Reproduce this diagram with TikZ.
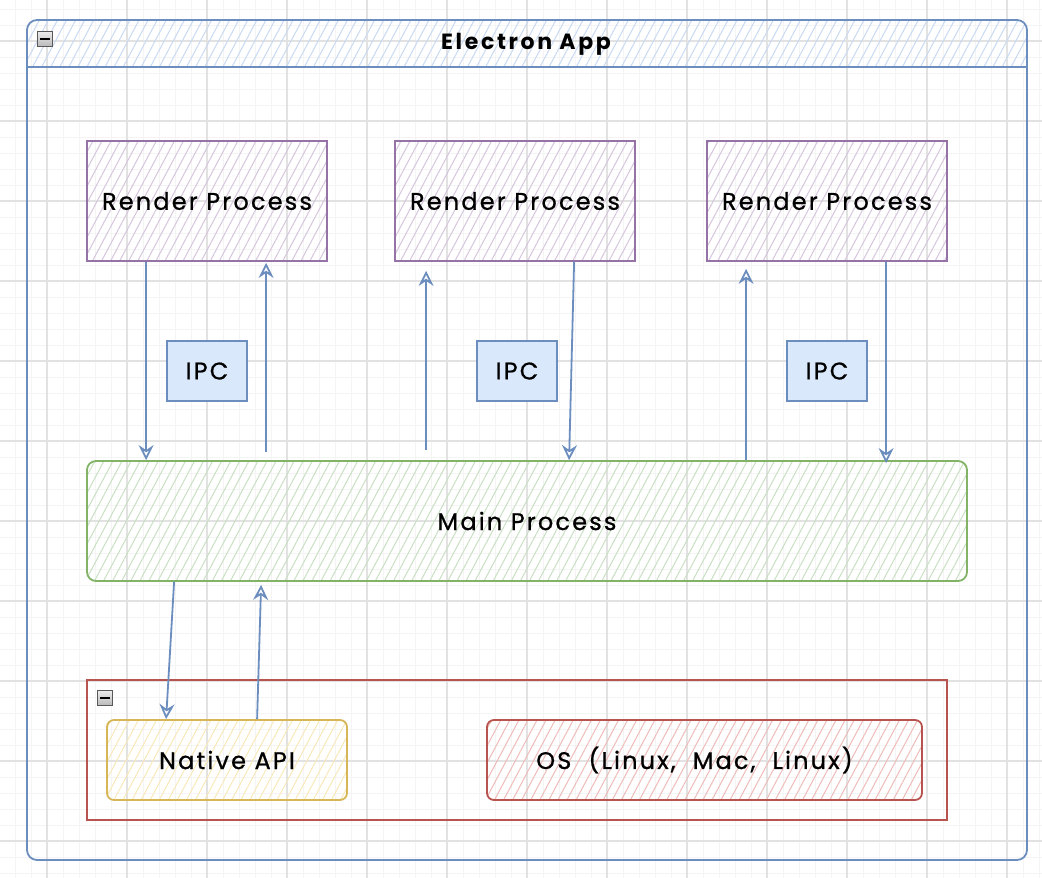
\documentclass[tikz,border=0pt]{standalone}
\usepackage{fontspec}
\setmainfont{Poppins}
\usetikzlibrary{patterns.meta,arrows.meta}
\definecolor{blueS}{HTML}{6C8EBF}
\definecolor{blueF}{HTML}{DAE8FC}
\definecolor{purpS}{HTML}{9673A6}
\definecolor{purpF}{HTML}{E1D5E7}
\definecolor{greenS}{HTML}{82B366}
\definecolor{greenF}{HTML}{D5E8D4}
\definecolor{yelS}{HTML}{D6B656}
\definecolor{yelF}{HTML}{FFF2CC}
\definecolor{redS}{HTML}{B85450}
\definecolor{redF}{HTML}{F8CECC}
\definecolor{minorg}{HTML}{F4F4F4}
\definecolor{majorg}{HTML}{E2E2E2}
\tikzset{
  txt/.style={font=\fontsize{24}{28}\selectfont\addfontfeature{LetterSpace=9,FakeBold=0.8}},
  hatch/.style={pattern={Lines[angle=62,distance=8pt,line width=1pt]},pattern color=#1F!85!#1S},
  box/.style={draw=#1S, line width=1.8pt, inner sep=0pt, preaction={hatch=#1}},
  rproc/.style={box=purp, minimum width=240pt, minimum height=120pt, txt},
  ipc/.style={draw=blueS, fill=blueF, line width=1.2pt, minimum width=80pt, minimum height=60pt, txt},
  arr/.style={draw=blueS, line width=1.8pt, -{Stealth[open,length=15pt,width=15pt,inset=5pt,line width=1.8pt]}},
  icon/.style={draw=gray!70!black, top color=gray!15, bottom color=gray!55, minimum size=15pt, inner sep=0pt, line width=0.6pt},
}
\begin{document}
\begin{tikzpicture}[x=1pt,y=-1pt]
\useasboundingbox (0,0) rectangle (1042,878);
\fill[white] (0,0) rectangle (1042,878);
% grid
\foreach \x in {15,31,...,1042} \draw[minorg, line width=0.8pt] (\x,0) -- (\x,878);
\foreach \y in {9,25,...,878} \draw[minorg, line width=0.8pt] (0,\y) -- (1042,\y);
\foreach \x in {47,127,...,1042} \draw[majorg, line width=1.3pt] (\x,0) -- (\x,878);
\foreach \y in {41,121,...,878} \draw[majorg, line width=1.3pt] (0,\y) -- (1042,\y);

% outer container
\path[hatch=blue] (27,67) [rounded corners=10pt] -- (27,20) -- (1027,20) [sharp corners] -- (1027,67) -- cycle;
\node[draw=blueS, line width=1.8pt, rounded corners=10pt, minimum width=1000pt, minimum height=840pt, inner sep=0pt] (app) at (527,440) {};
\draw[blueS, line width=1.8pt] (app.west |- 0,67) -- (app.east |- 0,67);
\node[font=\fontsize{22}{26}\selectfont\bfseries\addfontfeature{LetterSpace=12}] (title) at (526,44) {Electron App};
\node[icon] (icon1) at (45,39) {};
\draw[line width=1.6pt] ([xshift=3pt]icon1.west) -- ([xshift=-3pt]icon1.east);

% render processes
\node[rproc] (rp1) at (207,201) {Render Process};
\node[rproc] (rp2) at (515,201) {Render Process};
\node[rproc] (rp3) at (827,201) {Render Process};

% IPC
\node[ipc] (ipc1) at (207,371) {IPC};
\node[ipc] (ipc2) at (517,371) {IPC};
\node[ipc] (ipc3) at (827,371) {IPC};

% main
\node[box=green, rounded corners=9pt, minimum width=880pt, minimum height=120pt, txt] (main) at (527,521) {Main Process};

% os container
\node[draw=redS, line width=1.8pt, minimum width=860pt, minimum height=140pt, inner sep=0pt] (osbox) at (517,750) {};
\node[icon] (icon2) at (105,698) {};
\draw[line width=1.6pt] ([xshift=3pt]icon2.west) -- ([xshift=-3pt]icon2.east);
\node[box=yel, rounded corners=7pt, minimum width=240pt, minimum height=80pt, txt] (native) at (227,760) {Native API};
\node[box=red, rounded corners=7pt, minimum width=435pt, minimum height=80pt, txt] (os) at (704.5,760) {OS\ \ (Linux,\ \ Mac,\ \ Linux)\hspace*{20pt}};

% arrows
\draw[arr] ([xshift=60pt]rp1.south west) -- ([xshift=60pt]main.north west);
\draw[arr] ([xshift=180pt,yshift=8pt]main.north west) -- ([xshift=180pt,yshift=-1pt]rp1.south west);
\draw[arr] ([xshift=340pt,yshift=10pt]main.north west) -- ([xshift=32pt,yshift=-9pt]rp2.south west);
\draw[arr] ([xshift=180pt]rp2.south west) -- ([xshift=483pt]main.north west);
\draw[arr] ([xshift=660pt]main.north west) -- ([xshift=40pt,yshift=-7pt]rp3.south west);
\draw[arr] ([xshift=180pt]rp3.south west) -- ([xshift=800pt,yshift=-3pt]main.north west);
\draw[arr] ([xshift=88pt]main.south west) -- ([xshift=60pt]native.north west);
\draw[arr] ([xshift=151pt]native.north west) -- ([xshift=175pt,yshift=-3pt]main.south west);
\end{tikzpicture}
\end{document}
